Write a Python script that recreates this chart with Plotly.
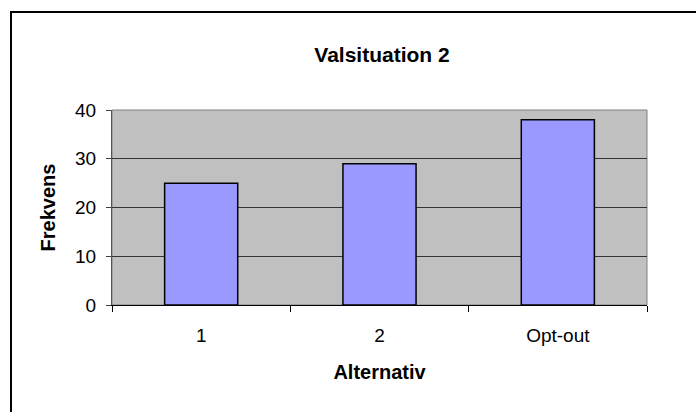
import plotly.graph_objects as go

# Frequency of each chosen alternative
alternativ = ["1", "2", "Opt-out"]
frekvens = [25, 29, 38]
y_ticks = [0, 10, 20, 30, 40]

W, H = 696, 412
L, R, T, B = 112, 49, 110, 107
pw, ph = W - L - R, H - T - B

fig = go.Figure(
    go.Bar(
        x=alternativ,
        y=frekvens,
        marker=dict(color="#9999FF", line=dict(color="#000000", width=1.5)),
        width=0.41,
    )
)

font = "Liberation Sans, Arial, sans-serif"

fig.update_layout(
    width=W,
    height=H,
    margin=dict(l=L, r=R, t=T, b=B),
    paper_bgcolor="#FFFFFF",
    plot_bgcolor="#C0C0C0",
    showlegend=False,
    font=dict(family=font, color="#000000", size=19),
    title=dict(
        text="<b>Valsituation 2</b>",
        font=dict(family=font, size=21, color="#000000"),
        x=382 / W,
        xanchor="center",
        y=1 - 55 / H,
        yanchor="middle",
    ),
    xaxis=dict(
        type="category",
        tickson="boundaries",
        ticks="outside",
        ticklen=6,
        tickcolor="#000000",
        showgrid=False,
        showline=True,
        linecolor="#000000",
        linewidth=1,
        ticklabelstandoff=13,
        tickfont=dict(size=19),
        title=dict(text="<b>Alternativ</b>", font=dict(size=20), standoff=20),
        fixedrange=True,
    ),
    yaxis=dict(
        range=[0, 40],
        tickvals=y_ticks,
        ticks="outside",
        ticklen=5,
        tickcolor="#404040",
        showgrid=True,
        gridcolor="#333333",
        gridwidth=1,
        showline=True,
        linecolor="#555555",
        linewidth=1,
        zeroline=False,
        ticklabelstandoff=6,
        tickfont=dict(size=19),
        title=dict(text="<b>Frekvens</b>", font=dict(size=20), standoff=14),
        fixedrange=True,
    ),
    shapes=[
        # plot-area frame
        dict(type="rect", xref="paper", yref="paper", x0=0, x1=1, y0=0, y1=1,
             line=dict(color="#808080", width=1), layer="below"),
        # chart-area outline
        dict(type="rect", xref="paper", yref="paper",
             x0=(11 - L) / pw, x1=(W + 10 - L) / pw,
             y0=-(B + 10) / ph, y1=(H - B - 12) / ph,
             line=dict(color="#000000", width=2), fillcolor="rgba(0,0,0,0)"),
    ],
)

fig.write_html("out.html", config={"displayModeBar": False})
